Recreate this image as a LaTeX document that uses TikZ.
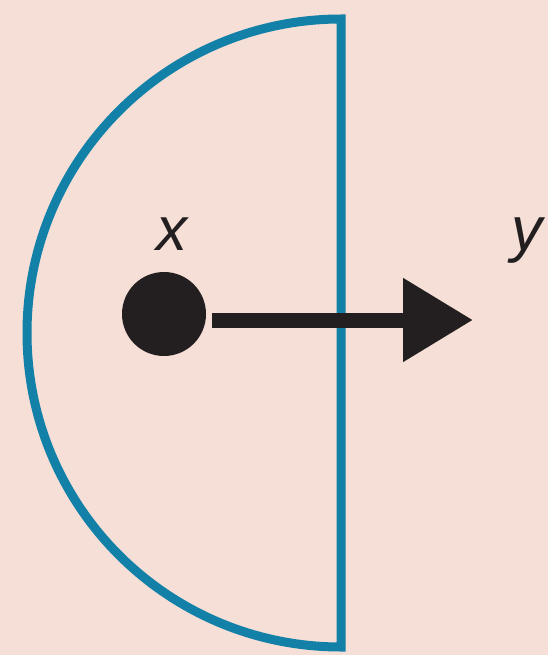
\documentclass[tikz,border=0pt]{standalone}
\usepackage{fontspec}
\setmainfont{Liberation Sans}
\usetikzlibrary{arrows.meta}
\definecolor{bgpeach}{HTML}{F5DFD6}
\definecolor{rimblue}{HTML}{1380A8}
\definecolor{inkblack}{HTML}{231F20}
\tikzset{
  rim/.style={rimblue, line width=9pt},
  lbl/.style={inkblack, font=\fontsize{62}{62}\selectfont\itshape, anchor=base, inner sep=0pt},
}
\begin{document}
\begin{tikzpicture}[x=1pt,y=-1pt]
    % Background
    \fill[bgpeach] (0,0) rectangle (548,655);
    \useasboundingbox (0,0) rectangle (548,655);

    % Half disc: flat side on the right
    \draw[rim] (341,19) arc[start angle=270, end angle=90, radius=314] -- cycle;

    % Point x and its image y
    \fill[inkblack] (164,314) circle (42);
    \node[lbl] (xlabel) at (172,250) {x};
    \node[lbl] (ylabel) at (527,250) {y};

    % Arrow
    \coordinate (tail) at (212,320);
    \coordinate (tip) at (473,320);
    \draw[inkblack, line width=15pt, -{Triangle[length=70pt, width=80pt]}] (tail) -- (tip);
\end{tikzpicture}
\end{document}
